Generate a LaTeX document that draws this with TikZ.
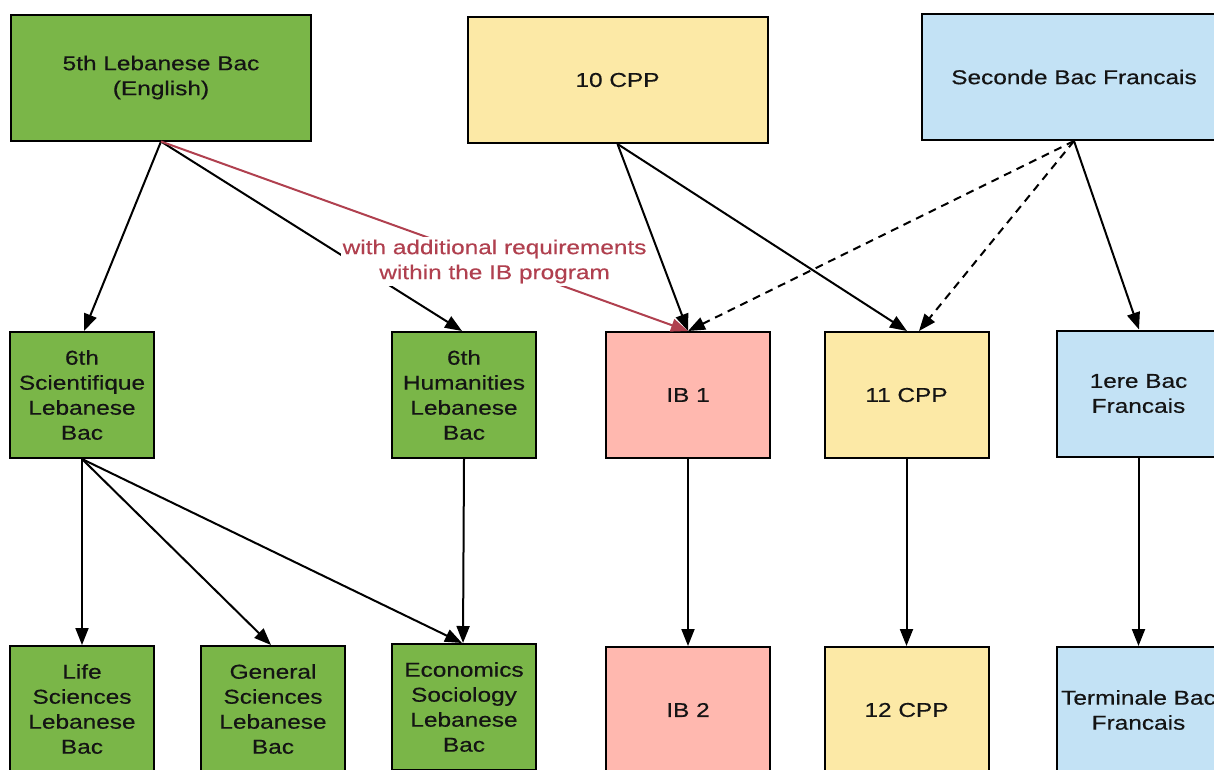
\documentclass[tikz,border=0pt]{standalone}
\usepackage{fontspec}
\setmainfont{Liberation Sans}[FakeStretch=1.22, FakeBold=0.4]
\usetikzlibrary{arrows.meta}
\definecolor{bgreen}{HTML}{7AB648}
\definecolor{byellow}{HTML}{FCE9A6}
\definecolor{bpink}{HTML}{FFB8AF}
\definecolor{bblue}{HTML}{C3E2F5}
\definecolor{txt}{HTML}{141414}
\definecolor{note}{HTML}{B0404F}
\tikzset{
  x=1pt, y=-1pt,
  box/.style={draw=black, line width=2pt, align=center, text=txt, inner sep=0pt,
    font=\fontsize{20}{25}\selectfont},
  wide/.style={box, minimum width=300pt, minimum height=126pt},
  narrow/.style={box, minimum width=144pt, minimum height=126pt},
  mid/.style={box, minimum width=164pt, minimum height=126pt},
  conn/.style={line width=2pt, -{Triangle[length=17pt,width=13pt]}},
  dconn/.style={conn, dash pattern=on 8pt off 6pt},
  rconn/.style={conn, draw=note, -{Triangle[length=17pt,width=13pt,fill=note]}},
}
\begin{document}
\begin{tikzpicture}
\useasboundingbox (0,0) rectangle (1214,769);
\clip (0,0) rectangle (1214,769);
% top row
\node[wide, fill=bgreen] (A) at (161,77.5) {5th Lebanese Bac\\(English)};
\node[wide, fill=byellow] (B) at (617.5,80) {10 CPP};
\node[wide, fill=bblue, minimum width=304pt] (C) at (1074,77) {Seconde Bac Francais};
% middle row
\node[narrow, fill=bgreen] (D) at (82,395) {6th\\Scientifique\\Lebanese\\Bac};
\node[narrow, fill=bgreen] (E) at (464,395) {6th\\Humanities\\Lebanese\\Bac};
\node[mid, fill=bpink] (F) at (688,395) {IB 1};
\node[mid, fill=byellow] (G) at (906.5,395) {11 CPP};
\node[mid, fill=bblue] (H) at (1138.5,393.5) {1ere Bac\\Francais};
% bottom row
\node[narrow, fill=bgreen] (I) at (82,709) {Life\\Sciences\\Lebanese\\Bac};
\node[narrow, fill=bgreen] (J) at (273,709) {General\\Sciences\\Lebanese\\Bac};
\node[narrow, fill=bgreen] (K) at (464,707) {Economics\\Sociology\\Lebanese\\Bac};
\node[mid, fill=bpink] (L) at (688,710) {IB 2};
\node[mid, fill=byellow] (M) at (906.5,710) {12 CPP};
\node[mid, fill=bblue] (N) at (1138.5,710) {Terminale Bac\\Francais};
% connectors
\draw[conn] (A.south) -- ([xshift=2pt]D.north);
\draw[conn] (A.south) -- ([xshift=-2pt]E.north);
\draw[conn] (B.south) -- (F.north);
\draw[conn] (B.south) -- ([xshift=0.5pt]G.north);
\draw[dconn] (C.south) -- (F.north);
\draw[dconn] (C.south) -- ([xshift=12.5pt]G.north);
\draw[conn] (C.south) -- ([xshift=0.5pt]H.north);
\draw[conn] (D.south) -- (I.north);
\draw[conn] (D.south) -- ([xshift=-2pt]J.north);
\draw[conn] (D.south) -- ([xshift=-2pt]K.north);
\draw[conn] (E.south) -- ([xshift=-1pt]K.north);
\draw[conn] (F.south) -- (L.north);
\draw[conn] (G.south) -- (M.north);
\draw[conn] (H.south) -- (N.north);
\draw[rconn] (A.south) -- node[pos=0.633, fill=white, inner xsep=2pt, inner ysep=3pt, align=center, text=note,
  font=\fontsize{20}{25}\selectfont] (lbl) {with additional requirements\\within the IB program} (F.north);
\end{tikzpicture}
\end{document}
